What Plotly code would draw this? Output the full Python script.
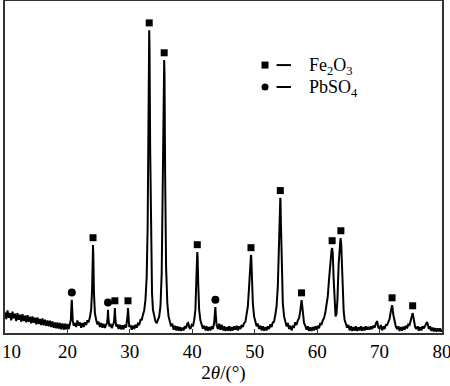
import plotly.graph_objects as go

# XRD pattern: (2theta, intensity a.u.)
pattern_10_24 = [
    (10.0, 62), (10.2, 42), (10.4, 68), (10.6, 46), (10.8, 60), (11.0, 38), (11.2, 64), (11.4, 44),
    (11.6, 58), (11.8, 36), (12.0, 60), (12.2, 40), (12.4, 55), (12.6, 34), (12.8, 57), (13.0, 36),
    (13.2, 52), (13.4, 32), (13.6, 54), (13.8, 34), (14.0, 49), (14.2, 29), (14.4, 50), (14.6, 31),
    (14.8, 46), (15.0, 26), (15.2, 47), (15.4, 27), (15.6, 42), (15.8, 24), (16.0, 44), (16.2, 23),
    (16.4, 40), (16.6, 22), (16.8, 38), (17.0, 20), (17.2, 37), (17.4, 18), (17.6, 35), (17.8, 16),
    (18.0, 32), (18.2, 14), (18.4, 32), (18.6, 13), (18.8, 30), (19.0, 11), (19.2, 29), (19.4, 10),
    (19.6, 28), (19.8, 11), (20.0, 27), (20.2, 12), (20.4, 28),
    (20.55, 40), (20.65, 85), (20.7, 100), (20.75, 80), (20.85, 38), (21.0, 22),
    (21.2, 30), (21.4, 18), (21.6, 38), (21.8, 22), (22.0, 32), (22.2, 16), (22.4, 30), (22.6, 18),
    (22.8, 32), (23.0, 24), (23.2, 38), (23.4, 32), (23.6, 48), (23.8, 70),
    (23.95, 130), (24.05, 240), (24.1, 265), (24.15, 235), (24.25, 120), (24.4, 60),
]
pattern_24_33 = [
    (24.6, 40), (24.8, 26), (25.0, 34), (25.2, 18), (25.4, 30), (25.6, 16), (25.8, 28), (26.0, 15),
    (26.2, 25), (26.35, 30), (26.45, 50), (26.5, 70), (26.55, 48), (26.7, 20), (26.9, 28), (27.1, 15),
    (27.3, 26), (27.45, 32), (27.55, 55), (27.6, 75), (27.65, 52), (27.8, 20), (28.0, 26), (28.2, 12),
    (28.4, 25), (28.6, 11), (28.8, 23), (29.0, 11), (29.2, 25), (29.4, 16), (29.55, 34), (29.65, 55),
    (29.7, 75), (29.75, 50), (29.9, 18), (30.1, 24), (30.3, 10), (30.5, 22), (30.7, 12), (30.9, 25),
    (31.1, 16), (31.3, 28), (31.5, 24), (31.7, 40), (31.9, 40), (32.1, 55), (32.3, 68), (32.5, 100),
    (32.7, 170), (32.85, 320), (32.95, 600), (33.05, 880), (33.1, 912), (33.15, 860), (33.25, 560),
]
pattern_33_45 = [
    (33.4, 250), (33.55, 120), (33.7, 70), (33.9, 45), (34.1, 35), (34.3, 30), (34.5, 42), (34.7, 50),
    (34.9, 80), (35.1, 180), (35.3, 500), (35.45, 790), (35.5, 822), (35.55, 780), (35.65, 480),
    (35.8, 200), (36.0, 90), (36.2, 50), (36.4, 35), (36.6, 20), (36.8, 28), (37.0, 10), (37.2, 22),
    (37.4, 8), (37.6, 20), (37.8, 7), (38.0, 18), (38.2, 6), (38.4, 16), (38.6, 8), (38.8, 20),
    (39.0, 14), (39.2, 28), (39.35, 30), (39.5, 18), (39.7, 12), (39.9, 24), (40.1, 20), (40.3, 38),
    (40.5, 70), (40.65, 160), (40.75, 235), (40.8, 244), (40.85, 230), (40.95, 150), (41.1, 70),
    (41.3, 38), (41.5, 24), (41.7, 13), (41.9, 22), (42.1, 8), (42.3, 20), (42.5, 7), (42.7, 18),
    (42.9, 8), (43.1, 20), (43.3, 12), (43.5, 30), (43.65, 60), (43.7, 78), (43.75, 58), (43.9, 23),
    (44.1, 12), (44.3, 28), (44.5, 10), (44.7, 25), (44.9, 8),
]
pattern_45_58 = [
    (45.1, 20), (45.3, 6), (45.5, 18), (45.7, 7), (45.9, 20), (46.1, 6), (46.3, 18), (46.5, 8),
    (46.7, 20), (46.9, 10), (47.1, 22), (47.3, 8), (47.5, 20), (47.7, 12), (47.9, 24), (48.1, 18),
    (48.3, 30), (48.5, 33), (48.7, 55), (48.9, 80), (49.1, 140), (49.25, 200), (49.35, 232),
    (49.4, 235), (49.45, 228), (49.55, 170), (49.7, 90), (49.9, 50), (50.1, 35), (50.3, 20),
    (50.5, 28), (50.7, 12), (50.9, 22), (51.1, 8), (51.3, 20), (51.5, 7), (51.7, 18), (51.9, 8),
    (52.1, 20), (52.3, 12), (52.5, 26), (52.7, 18), (52.9, 32), (53.1, 34), (53.3, 55), (53.5, 80),
    (53.7, 140), (53.9, 260), (54.0, 360), (54.07, 400), (54.1, 407), (54.13, 398), (54.2, 330),
    (54.35, 170), (54.5, 90), (54.7, 50), (54.9, 36), (55.1, 20), (55.3, 30), (55.5, 12), (55.7, 22),
    (55.9, 8), (56.1, 20), (56.3, 18), (56.5, 32), (56.7, 24), (56.9, 38), (57.1, 44), (57.3, 66),
    (57.4, 86), (57.5, 99), (57.6, 84), (57.75, 50), (57.9, 30),
]
pattern_58_80 = [
    (58.1, 22), (58.3, 10), (58.5, 20), (58.7, 6), (58.9, 17), (59.1, 6), (59.3, 18), (59.5, 8),
    (59.7, 20), (59.9, 10), (60.1, 22), (60.3, 14), (60.5, 28), (60.7, 26), (60.9, 38), (61.1, 45),
    (61.3, 60), (61.5, 80), (61.7, 110), (61.9, 160), (62.1, 215), (62.3, 248), (62.4, 256),
    (62.5, 240), (62.65, 160), (62.8, 85), (62.95, 50), (63.1, 58), (63.25, 100), (63.45, 210),
    (63.65, 276), (63.75, 286), (63.85, 270), (63.95, 200), (64.1, 110), (64.25, 65), (64.4, 40),
    (64.6, 28), (64.8, 16), (65.0, 24), (65.2, 8), (65.4, 20), (65.6, 6), (65.8, 18), (66.0, 7),
    (66.2, 20), (66.4, 6), (66.6, 17), (66.8, 8), (67.0, 20), (67.2, 7), (67.4, 18), (67.6, 8),
    (67.8, 20), (68.0, 10), (68.2, 18), (68.4, 10), (68.6, 20), (68.8, 12), (69.0, 22), (69.2, 16),
    (69.4, 28), (69.55, 34), (69.6, 36), (69.65, 32), (69.8, 16), (70.0, 14), (70.2, 24), (70.4, 8),
    (70.6, 20), (70.8, 12), (71.0, 24), (71.2, 24), (71.4, 34), (71.6, 42), (71.8, 65), (71.95, 80),
    (72.0, 84), (72.05, 80), (72.2, 55), (72.4, 32), (72.6, 20), (72.8, 12), (73.0, 20), (73.2, 6),
    (73.4, 18), (73.6, 7), (73.8, 19), (74.0, 10), (74.2, 22), (74.4, 14), (74.6, 26), (74.8, 24),
    (75.0, 36), (75.15, 50), (75.25, 57), (75.3, 60), (75.35, 55), (75.5, 35), (75.7, 18), (75.9, 12),
    (76.1, 20), (76.3, 7), (76.5, 18), (76.7, 8), (76.9, 20), (77.1, 14), (77.3, 24), (77.5, 30),
    (77.6, 33), (77.7, 28), (77.9, 12), (78.1, 20), (78.3, 6), (78.5, 16), (78.7, 5), (78.9, 15),
    (79.1, 4), (79.3, 14), (79.5, 5), (79.7, 14), (79.9, 4), (80.0, 10),
]

# Phase identification marks (peak position, peak intensity)
fe2o3_pos = [24.1, 27.6, 29.7, 33.1, 35.5, 40.8, 49.4, 54.1, 57.5, 62.4, 63.8, 72.0, 75.3]
fe2o3_peak = [265, 75, 75, 912, 822, 244, 235, 407, 99, 256, 286, 84, 60]
pbso4_pos = [20.7, 26.5, 43.7]
pbso4_peak = [100, 70, 78]

x_ticks = [10, 20, 30, 40, 50, 60, 70, 80]

pattern = pattern_10_24 + pattern_24_33 + pattern_33_45 + pattern_45_58 + pattern_58_80
two_theta = [p[0] for p in pattern]
intensity = [p[1] for p in pattern]

MARK_OFFSET = 22
FONT = "Liberation Serif, Times New Roman, serif"

fig = go.Figure()
fig.add_trace(go.Scatter(
    x=two_theta, y=intensity, mode="lines",
    line=dict(color="black", width=2), showlegend=False, hoverinfo="skip"))
fig.add_trace(go.Scatter(
    x=fe2o3_pos, y=[h + MARK_OFFSET for h in fe2o3_peak], mode="markers",
    marker=dict(symbol="square", size=7, color="black"), showlegend=False))
fig.add_trace(go.Scatter(
    x=pbso4_pos, y=[h + MARK_OFFSET for h in pbso4_peak], mode="markers",
    marker=dict(symbol="circle", size=8, color="black"), showlegend=False))

# custom legend (square/circle — dash — formula)
fig.add_trace(go.Scatter(x=[51.65], y=[807], mode="markers",
                         marker=dict(symbol="square", size=7, color="black"), showlegend=False))
fig.add_trace(go.Scatter(x=[51.65], y=[741], mode="markers",
                         marker=dict(symbol="circle", size=7, color="black"), showlegend=False))
for yy in (807, 741):
    fig.add_shape(type="line", x0=53.5, x1=55.8, y0=yy, y1=yy, xref="x", yref="y",
                  line=dict(color="black", width=2))
fig.add_annotation(x=58.4, y=802, xref="x", yref="y", xanchor="left", yanchor="middle",
                   text="Fe<sub>2</sub>O<sub>3</sub>", showarrow=False,
                   font=dict(family=FONT, size=18, color="black"))
fig.add_annotation(x=58.4, y=736, xref="x", yref="y", xanchor="left", yanchor="middle",
                   text="PbSO<sub>4</sub>", showarrow=False,
                   font=dict(family=FONT, size=18, color="black"))
# first tick label sits slightly right of its tick so it stays inside the canvas
fig.add_annotation(x=6 / 437, y=0, xref="paper", yref="paper", xanchor="center", yanchor="top",
                   yshift=-6, text=str(x_ticks[0]), showarrow=False,
                   font=dict(family=FONT, size=19, color="black"))

fig.update_layout(
    width=450, height=386,
    margin=dict(l=5, r=8, t=1, b=53, autoexpand=False),
    plot_bgcolor="white", paper_bgcolor="white",
    font=dict(family=FONT, size=19, color="black"),
    xaxis=dict(
        range=[10, 80], tickvals=x_ticks, ticktext=[""] + [str(t) for t in x_ticks[1:]],
        ticks="inside", ticklen=4, tickwidth=1, tickcolor="#333",
        ticklabeloverflow="allow", automargin=False,
        showline=True, linecolor="#333", linewidth=1.5, mirror=True,
        showgrid=False, zeroline=False,
        title=dict(text="2<i>θ</i>/(°)", font=dict(family=FONT, size=19), standoff=2),
    ),
    yaxis=dict(
        range=[0, 1000], showticklabels=False, ticks="", automargin=False,
        showline=True, linecolor="#333", linewidth=1.5, mirror=True,
        showgrid=False, zeroline=False,
    ),
)

fig.write_html("out.html", config={"displayModeBar": False},
               post_script="document.body.style.margin='0';")
